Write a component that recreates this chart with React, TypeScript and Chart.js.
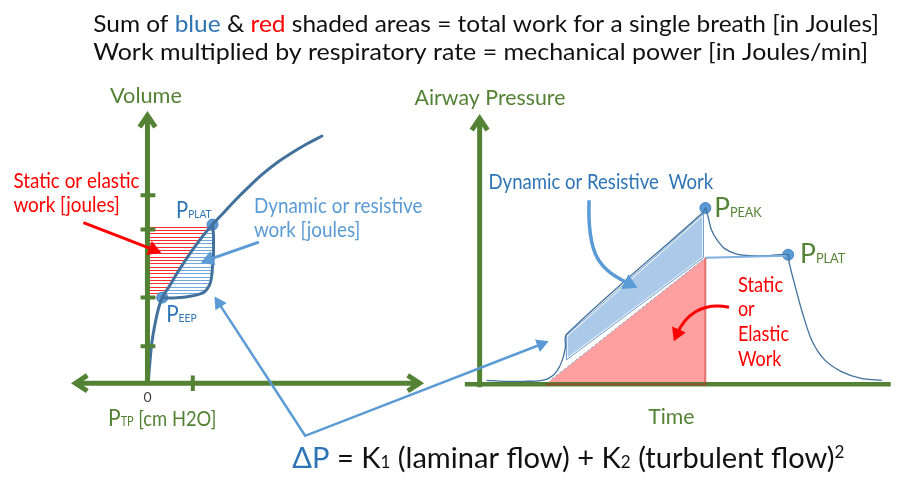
import React, { useEffect, useRef } from "react";
import { Chart, registerables } from "chart.js";

Chart.register(...registerables);

type P = { x: number; y: number };

// ---------------- Left panel: P_TP vs Volume (diagram units) ----------------
const volumeAxis: P[] = [{ x: 143, y: 112 }, { x: 143, y: 389 }];
const ptpAxis: P[] = [{ x: 70, y: 387 }, { x: 419, y: 387 }];
const volumeArrow: P[] = [{ x: 135, y: 124 }, { x: 143, y: 112 }, { x: 151, y: 124 }];
const ptpArrowLeft: P[] = [{ x: 82, y: 379 }, { x: 70, y: 387 }, { x: 82, y: 395 }];
const ptpArrowRight: P[] = [{ x: 407, y: 379 }, { x: 419, y: 387 }, { x: 407, y: 395 }];
const volumeTicks: number[] = [194, 229, 299, 349];
const ptpTicks: number[] = [189];

const complianceCurve: P[] = [
  { x: 144, y: 384 }, { x: 145.5, y: 365 }, { x: 147.5, y: 345 }, { x: 150.5, y: 327 },
  { x: 154, y: 311 }, { x: 158, y: 299 },
  { x: 166, y: 286 }, { x: 173, y: 274 }, { x: 180, y: 263 }, { x: 188, y: 251 },
  { x: 196, y: 240 }, { x: 203, y: 231 }, { x: 209, y: 224 },
  { x: 221, y: 211 }, { x: 233, y: 198 }, { x: 246, y: 185 }, { x: 260, y: 172 },
  { x: 275, y: 160 }, { x: 290, y: 150 }, { x: 305, y: 141 }, { x: 320, y: 133 },
];
const inspiratoryLimb: P[] = [
  { x: 158, y: 299 }, { x: 166, y: 299.5 }, { x: 175, y: 299 }, { x: 185, y: 298 },
  { x: 194, y: 296 }, { x: 201, y: 293 }, { x: 206, y: 286 }, { x: 208, y: 278 },
  { x: 209, y: 267 }, { x: 210, y: 255 }, { x: 210, y: 245 }, { x: 210, y: 235 },
  { x: 209, y: 224 },
];
const peepPoint: P = { x: 158, y: 299 };
const pplatLeftPoint: P = { x: 209, y: 224 };
const elasticHatchLeftEdge: P[] = [{ x: 145, y: 224 }, { x: 145, y: 299 }];

// ---------------- Right panel: Time vs Airway pressure ----------------
const pressureAxis: P[] = [{ x: 480, y: 115 }, { x: 480, y: 391 }];
const timeAxis: P[] = [{ x: 465, y: 388 }, { x: 897, y: 388 }];
const pressureArrow: P[] = [{ x: 472, y: 127 }, { x: 480, y: 115 }, { x: 488, y: 127 }];

const pressureTime: P[] = [
  { x: 487, y: 384 }, { x: 505, y: 385 }, { x: 525, y: 385 }, { x: 540, y: 384.5 },
  { x: 550, y: 382 }, { x: 558, y: 375 }, { x: 564, y: 363 }, { x: 567, y: 350 },
  { x: 568, y: 337 },
  { x: 707, y: 211 }, { x: 709, y: 207 },
  { x: 712, y: 217 }, { x: 715, y: 229 }, { x: 721, y: 240 }, { x: 729, y: 249 },
  { x: 740, y: 254 }, { x: 755, y: 256 }, { x: 773, y: 256 }, { x: 793, y: 255 },
  { x: 794, y: 263 }, { x: 800, y: 287 }, { x: 807, y: 313 }, { x: 817, y: 343 },
  { x: 830, y: 363 }, { x: 847, y: 375 }, { x: 867, y: 382 }, { x: 888, y: 384 },
];
const resistiveBand: P[] = [{ x: 568, y: 363 }, { x: 568, y: 338 }, { x: 707, y: 213 }, { x: 707, y: 258 }];
const elasticTriangle: P[] = [{ x: 547, y: 388 }, { x: 709, y: 258 }, { x: 709, y: 388 }];
const elasticDash: P[] = [{ x: 553, y: 383 }, { x: 707, y: 260 }];
const plateauLine: P[] = [{ x: 709, y: 258 }, { x: 791, y: 256 }];
const ppeakPoint: P = { x: 709, y: 207 };
const pplatRightPoint: P = { x: 793, y: 255 };

// ---------------- Annotations ----------------
type Part = { t: string; size: number; color: string; dy?: number };
type Label = { x: number; y: number; w?: number; align?: "center"; parts: Part[] };

const FONT = 'Lato, "Open Sans", "DejaVu Sans", sans-serif';
const GREEN = "#548235";
const BLACK = "#111111";
const RED = "#ff0000";
const BLUE_L = "#5b9bd5";
const BLUE_D = "#2e75b6";

const labels: Label[] = [
  {
    x: 88, y: 26, w: 797, parts: [
      { t: "Sum of ", size: 24, color: BLACK },
      { t: "blue", size: 24, color: BLUE_D },
      { t: " & ", size: 24, color: BLACK },
      { t: "red", size: 24, color: RED },
      { t: " shaded areas = total work for a single breath [in Joules]", size: 24, color: BLACK },
    ],
  },
  { x: 88, y: 55, w: 786, parts: [{ t: "Work multiplied by respiratory rate = mechanical power [in Joules/min]", size: 24, color: BLACK }] },
  { x: 105, y: 99, w: 73, parts: [{ t: "Volume", size: 21, color: GREEN }] },
  { x: 414, y: 101, w: 153, parts: [{ t: "Airway Pressure", size: 21, color: GREEN }] },
  { x: 143, y: 406, align: "center", parts: [{ t: "0", size: 14, color: "#404040" }] },
  {
    x: 103, y: 431, w: 110, parts: [
      { t: "P", size: 24, color: GREEN },
      { t: "TP", size: 12.5, color: GREEN },
      { t: " [cm H2O]", size: 21, color: GREEN },
    ],
  },
  { x: 7, y: 186, w: 128, parts: [{ t: "Static or elastic", size: 20.5, color: RED }] },
  { x: 7, y: 211, w: 108, parts: [{ t: "work [joules]", size: 20.5, color: RED }] },
  { x: 172, y: 217, w: 36, parts: [{ t: "P", size: 24, color: BLUE_D }, { t: "PLAT", size: 12, color: BLUE_D }] },
  { x: 162, y: 324, w: 31, parts: [{ t: "P", size: 24, color: BLUE_D }, { t: "EEP", size: 12, color: BLUE_D }] },
  { x: 251, y: 212, w: 171, parts: [{ t: "Dynamic or resistive", size: 20.5, color: BLUE_L }] },
  { x: 251, y: 237, w: 108, parts: [{ t: "work [joules]", size: 20.5, color: BLUE_L }] },
  { x: 489, y: 187, w: 228, parts: [{ t: "Dynamic or Resistive  Work", size: 20.5, color: BLUE_D }] },
  { x: 718, y: 216, w: 48, parts: [{ t: "P", size: 27, color: GREEN }, { t: "PEAK", size: 13, color: GREEN }] },
  { x: 805, y: 264, w: 46, parts: [{ t: "P", size: 27, color: GREEN }, { t: "PLAT", size: 13, color: GREEN }] },
  { x: 742, y: 293, w: 46, parts: [{ t: "Static", size: 20.5, color: RED }] },
  { x: 742, y: 318, w: 17, parts: [{ t: "or", size: 20.5, color: RED }] },
  { x: 742, y: 344, w: 52, parts: [{ t: "Elastic", size: 20.5, color: RED }] },
  { x: 742, y: 369, w: 44, parts: [{ t: "Work", size: 20.5, color: RED }] },
  { x: 651, y: 429, w: 47, parts: [{ t: "Time", size: 21, color: GREEN }] },
  {
    x: 290, y: 474, w: 560, parts: [
      { t: "ΔP", size: 29, color: BLUE_D },
      { t: " = K", size: 29, color: BLACK },
      { t: "1", size: 17, color: BLACK },
      { t: " (laminar flow) + K", size: 29, color: BLACK },
      { t: "2", size: 17, color: BLACK },
      { t: " (turbulent flow)", size: 29, color: BLACK },
      { t: "2", size: 17, color: BLACK, dy: -10 },
    ],
  },
];

type Arrow = { pts: P[]; curve?: boolean; color: string; width: number; both?: boolean };
const arrows: Arrow[] = [
  { pts: [{ x: 78, y: 222 }, { x: 157, y: 253 }], color: RED, width: 3 },
  { pts: [{ x: 256, y: 242 }, { x: 197, y: 263 }], color: BLUE_L, width: 3 },
  { pts: [{ x: 211, y: 298 }, { x: 303, y: 441 }, { x: 550, y: 344 }], color: BLUE_L, width: 2.5, both: true },
  { pts: [{ x: 591, y: 199 }, { x: 589, y: 258 }, { x: 602, y: 270 }, { x: 640, y: 289 }], curve: true, color: BLUE_L, width: 3.5 },
  { pts: [{ x: 733, y: 309 }, { x: 705, y: 303 }, { x: 688, y: 318 }, { x: 677, y: 344 }], curve: true, color: RED, width: 3 },
];

// ---------------- helpers ----------------
const toPx = (chart: any, p: P) => ({
  x: chart.scales.x.getPixelForValue(p.x),
  y: chart.scales.y.getPixelForValue(p.y),
});

function hatch(color: string) {
  const c = document.createElement("canvas");
  c.width = 8;
  c.height = 10;
  const g = c.getContext("2d")!;
  g.fillStyle = color;
  [0, 3, 7].forEach((y) => g.fillRect(0, y, 8, 1));
  return g.createPattern(c, "repeat")!;
}

function polygon(ctx: CanvasRenderingContext2D, chart: any, pts: P[]) {
  ctx.beginPath();
  pts.forEach((p, i) => {
    const q = toPx(chart, p);
    if (i === 0) ctx.moveTo(q.x, q.y);
    else ctx.lineTo(q.x, q.y);
  });
  ctx.closePath();
}

function head(ctx: CanvasRenderingContext2D, from: { x: number; y: number }, tip: { x: number; y: number }, color: string, w: number) {
  const a = Math.atan2(tip.y - from.y, tip.x - from.x);
  const L = 7 + w * 2;
  const H = 3 + w * 1.5;
  ctx.save();
  ctx.translate(tip.x, tip.y);
  ctx.rotate(a);
  ctx.fillStyle = color;
  ctx.beginPath();
  ctx.moveTo(0, 0);
  ctx.lineTo(-L, -H);
  ctx.lineTo(-L, H);
  ctx.closePath();
  ctx.fill();
  ctx.restore();
}

function shorten(a: { x: number; y: number }, b: { x: number; y: number }, d: number) {
  const len = Math.hypot(b.x - a.x, b.y - a.y) || 1;
  return { x: b.x - ((b.x - a.x) / len) * d, y: b.y - ((b.y - a.y) / len) * d };
}

const overlay = {
  id: "overlay",
  beforeDatasetsDraw(chart: any) {
    const ctx: CanvasRenderingContext2D = chart.ctx;
    const iPeep = complianceCurve.findIndex((p) => p.x === peepPoint.x && p.y === peepPoint.y);
    const iPlat = complianceCurve.findIndex((p) => p.x === pplatLeftPoint.x && p.y === pplatLeftPoint.y);
    const diag = complianceCurve.slice(iPeep, iPlat + 1);
    ctx.save();
    // red hatched (elastic) area
    polygon(ctx, chart, [elasticHatchLeftEdge[1], ...diag, { x: elasticHatchLeftEdge[0].x, y: pplatLeftPoint.y }]);
    ctx.fillStyle = hatch("#ff2a2a");
    ctx.fill();
    // blue hatched (resistive) area
    polygon(ctx, chart, [...diag, ...inspiratoryLimb.slice().reverse()]);
    ctx.fillStyle = hatch("#6fa6dc");
    ctx.fill();
    // right panel: elastic triangle
    polygon(ctx, chart, elasticTriangle);
    ctx.fillStyle = "#ff9f9f";
    ctx.fill();
    // resistive band
    polygon(ctx, chart, resistiveBand);
    ctx.fillStyle = "#abc9e8";
    ctx.fill();
    ctx.strokeStyle = "#ffffff";
    ctx.lineWidth = 2.5;
    ctx.stroke();
    polygon(ctx, chart, resistiveBand);
    ctx.strokeStyle = "#6a98cf";
    ctx.lineWidth = 1;
    ctx.stroke();
    // dashed separation line
    const d0 = toPx(chart, elasticDash[0]);
    const d1 = toPx(chart, elasticDash[1]);
    ctx.beginPath();
    ctx.moveTo(d0.x, d0.y);
    ctx.lineTo(d1.x, d1.y);
    ctx.setLineDash([3, 2]);
    ctx.strokeStyle = "#8ea6c0";
    ctx.lineWidth = 1;
    ctx.stroke();
    ctx.setLineDash([]);
    ctx.restore();
  },
  afterDatasetsDraw(chart: any) {
    const ctx: CanvasRenderingContext2D = chart.ctx;
    ctx.save();
    // triangle edges over the axis
    const t0 = toPx(chart, elasticTriangle[0]);
    const t1 = toPx(chart, elasticTriangle[1]);
    const t2 = toPx(chart, elasticTriangle[2]);
    ctx.beginPath();
    ctx.moveTo(t0.x, t0.y);
    ctx.lineTo(t2.x, t2.y);
    ctx.lineTo(t1.x, t1.y);
    ctx.strokeStyle = "rgba(200,40,40,0.55)";
    ctx.lineWidth = 2;
    ctx.stroke();

    // arrows
    arrows.forEach((a) => {
      const pts = a.pts.map((p) => toPx(chart, p));
      const n = pts.length;
      const L = 7 + a.width * 2;
      ctx.strokeStyle = a.color;
      ctx.lineWidth = a.width;
      ctx.lineCap = "butt";
      ctx.lineJoin = "miter";
      ctx.beginPath();
      if (a.curve) {
        const end = shorten(pts[2], pts[3], L * 0.6);
        ctx.moveTo(pts[0].x, pts[0].y);
        ctx.bezierCurveTo(pts[1].x, pts[1].y, pts[2].x, pts[2].y, end.x, end.y);
      } else {
        const start = a.both ? shorten(pts[1], pts[0], L * 0.6) : pts[0];
        const end = shorten(pts[n - 2], pts[n - 1], L * 0.6);
        ctx.moveTo(start.x, start.y);
        for (let i = 1; i < n - 1; i++) ctx.lineTo(pts[i].x, pts[i].y);
        ctx.lineTo(end.x, end.y);
      }
      ctx.stroke();
      head(ctx, pts[n - 2], pts[n - 1], a.color, a.width);
      if (a.both) head(ctx, pts[1], pts[0], a.color, a.width);
    });

    // labels
    labels.forEach((l) => {
      const p = toPx(chart, l);
      let nat = 0;
      const widths = l.parts.map((part) => {
        ctx.font = `${part.size}px ${FONT}`;
        const w = ctx.measureText(part.t).width;
        nat += w;
        return w;
      });
      const target = l.w ? toPx(chart, { x: l.x + l.w, y: l.y }).x - p.x : nat;
      const sx = target / nat;
      let x0 = p.x;
      if (l.align === "center") x0 -= target / 2;
      ctx.save();
      ctx.translate(x0, p.y);
      ctx.scale(sx, 1);
      ctx.textBaseline = "alphabetic";
      ctx.textAlign = "left";
      let cx = 0;
      l.parts.forEach((part, i) => {
        ctx.font = `${part.size}px ${FONT}`;
        ctx.fillStyle = part.color;
        ctx.fillText(part.t, cx, part.dy || 0);
        cx += widths[i];
      });
      ctx.restore();
    });
    ctx.restore();
  },
};

const seg = (data: P[], color: string, width: number, extra: any = {}) => ({
  data,
  borderColor: color,
  backgroundColor: color,
  borderWidth: width,
  showLine: true,
  pointRadius: 0,
  tension: 0,
  fill: false,
  borderCapStyle: "butt",
  borderJoinStyle: "miter",
  ...extra,
});

export default function App() {
  const ref = useRef<HTMLCanvasElement | null>(null);
  useEffect(() => {
    if (!ref.current) return;
    const datasets: any[] = [
      seg(volumeAxis, GREEN, 5),
      seg(ptpAxis, GREEN, 5),
      seg(volumeArrow, GREEN, 5),
      seg(ptpArrowLeft, GREEN, 5),
      seg(ptpArrowRight, GREEN, 5),
      ...volumeTicks.map((y) => seg([{ x: 136, y }, { x: 151, y }], GREEN, 4)),
      ...ptpTicks.map((x) => seg([{ x, y: 379 }, { x, y: 395 }], GREEN, 4)),
      seg(pressureAxis, GREEN, 5),
      seg(timeAxis, GREEN, 4.5),
      seg(pressureArrow, GREEN, 5),
      seg(complianceCurve, "#41719c", 3, { tension: 0.4, borderCapStyle: "round" }),
      seg(inspiratoryLimb, "#41719c", 3, { tension: 0.4, borderCapStyle: "round" }),
      seg(plateauLine, "#7fb0e0", 2),
      seg(pressureTime, "#41719c", 1.3, { tension: 0.3 }),
      {
        data: [peepPoint, pplatLeftPoint, ppeakPoint, pplatRightPoint],
        showLine: false,
        pointRadius: 5.5,
        pointBackgroundColor: "#5b9bd5",
        pointBorderColor: "#4a86c5",
        pointBorderWidth: 1,
      },
    ];
    const chart = new Chart(ref.current, {
      type: "scatter",
      data: { datasets },
      options: {
        animation: false,
        responsive: false,
        events: [],
        layout: { padding: 0 },
        plugins: { legend: { display: false }, tooltip: { enabled: false } },
        scales: {
          x: { type: "linear", min: 0, max: 910, display: false },
          y: { type: "linear", min: 0, max: 490, reverse: true, display: false },
        },
      },
      plugins: [overlay],
    });
    return () => chart.destroy();
  }, []);
  return (
    <div style={{ position: "fixed", left: 0, top: 0, width: 910, height: 490, background: "#fff" }}>
      <canvas ref={ref} width={910} height={490} />
    </div>
  );
}
